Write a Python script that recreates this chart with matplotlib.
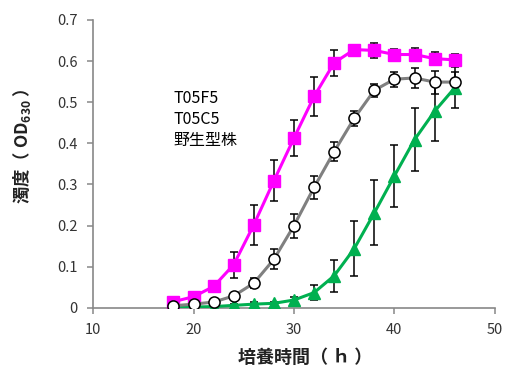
import matplotlib
matplotlib.use("Agg")
import matplotlib.pyplot as plt

plt.rcParams['font.family'] = ['Noto Sans CJK JP', 'DejaVu Sans']

hours = [18, 20, 22, 24, 26, 28, 30, 32, 34, 36, 38, 40, 42, 44, 46]
t05f5 = [0.015, 0.027, 0.052, 0.105, 0.202, 0.309, 0.413, 0.514, 0.596, 0.628, 0.626, 0.616, 0.616, 0.606, 0.603]
t05f5_err = [0.005, 0.006, 0.01, 0.032, 0.048, 0.05, 0.044, 0.047, 0.032, 0.012, 0.018, 0.014, 0.015, 0.015, 0.015]
t05c5 = [0.005, 0.009, 0.014, 0.029, 0.06, 0.118, 0.2, 0.293, 0.38, 0.461, 0.529, 0.556, 0.559, 0.549, 0.549]
t05c5_err = [0.004, 0.004, 0.005, 0.008, 0.012, 0.024, 0.029, 0.028, 0.024, 0.018, 0.016, 0.018, 0.024, 0.028, 0.025]
wild = [0.001, 0.002, 0.003, 0.006, 0.009, 0.011, 0.019, 0.037, 0.078, 0.144, 0.231, 0.321, 0.409, 0.478, 0.535]
wild_err = [0.001, 0.001, 0.002, 0.003, 0.004, 0.004, 0.007, 0.019, 0.039, 0.066, 0.079, 0.076, 0.077, 0.073, 0.05]

labels = ['T05F5', 'T05C5', '野生型株']
xticks = [10, 20, 30, 40, 50]
yticks = [0, 0.1, 0.2, 0.3, 0.4, 0.5, 0.6, 0.7]

fig = plt.figure(figsize=(5.06, 3.70), dpi=100)
ax = fig.add_axes([0.184, 0.168, 0.794, 0.778])

ax.errorbar(hours, t05f5, yerr=t05f5_err, fmt='none', ecolor='black', elinewidth=1.1, capsize=3, capthick=1.1, zorder=2)
ax.errorbar(hours, t05c5, yerr=t05c5_err, fmt='none', ecolor='black', elinewidth=1.1, capsize=3, capthick=1.1, zorder=2)
ax.errorbar(hours, wild, yerr=wild_err, fmt='none', ecolor='black', elinewidth=1.1, capsize=3, capthick=1.1, zorder=2)

ax.plot(hours, t05f5, color='#FF00FF', lw=2.2, marker='s', ms=8.5, mfc='#FF00FF', mec='#FF00FF', zorder=3)
ax.plot(hours, wild, color='#00B050', lw=2.2, marker='^', ms=8.5, mfc='#00B050', mec='#00B050', zorder=4)
ax.plot(hours, t05c5, color='#808080', lw=2.2, marker='o', ms=8, mfc='white', mec='black', mew=1.1, zorder=5)

ax.set_xlim(10, 50)
ax.set_ylim(0, 0.7)
ax.set_xticks(xticks)
ax.set_xticklabels([str(v) for v in xticks])
ax.set_yticks(yticks)
ax.set_yticklabels(['0'] + ['%.1f' % v for v in yticks[1:]])

for s in ['top', 'right']:
    ax.spines[s].set_visible(False)
for s in ['left', 'bottom']:
    ax.spines[s].set_color('#888888')
    ax.spines[s].set_linewidth(1.2)
ax.tick_params(direction='out', length=4, width=1.1, color='#888888', labelsize=10.5, labelcolor='#333333', pad=7)

fig.text(305 / 506, 1 - 357 / 370, '培養時間（ ｈ ）', fontsize=13, fontweight='bold', color='#222222',
         ha='center', va='center')
fig.text(22 / 506, 1 - 146 / 370, '濁度（ OD$_{\\mathregular{630}}$ ）', fontsize=12.5, fontweight='bold',
         color='#222222', rotation=90, ha='center', va='center')

for i, lab in enumerate(labels):
    ax.text(18.0, 0.51 - i * 0.052, lab, fontsize=11.5, color='black', va='center', ha='left')

fig.savefig('out.png', dpi=100)
